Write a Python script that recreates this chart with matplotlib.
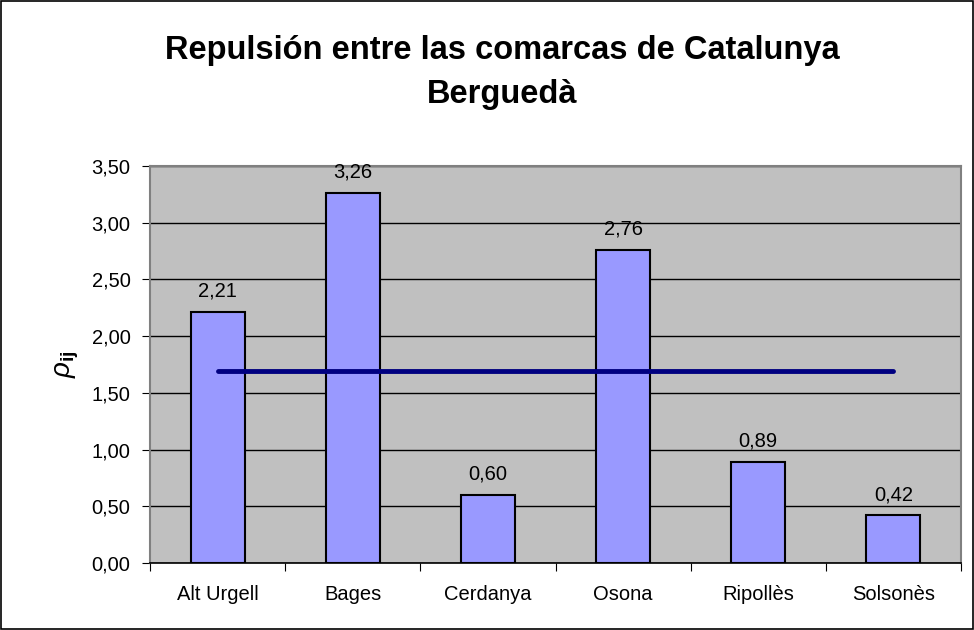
import matplotlib
matplotlib.use("Agg")
import matplotlib.pyplot as plt
from matplotlib.patches import Rectangle

categories = ["Alt Urgell", "Bages", "Cerdanya", "Osona", "Ripollès", "Solsonès"]
values = [2.21, 3.26, 0.60, 2.76, 0.89, 0.42]
mean_value = 1.69
yticks = [0.0, 0.5, 1.0, 1.5, 2.0, 2.5, 3.0, 3.5]

plt.rcParams['font.family'] = ['Liberation Sans', 'DejaVu Sans']
plt.rcParams['mathtext.fontset'] = 'custom'
plt.rcParams['mathtext.it'] = 'Liberation Sans:italic'
plt.rcParams['mathtext.bf'] = 'Liberation Sans:bold'
plt.rcParams['mathtext.rm'] = 'Liberation Sans'

fig = plt.figure(figsize=(9.74, 6.30), dpi=100)
fig.patch.set_facecolor('white')
fig.patches.append(Rectangle((0.001, 0.001), 0.998, 0.998, transform=fig.transFigure,
                             fill=False, edgecolor='black', linewidth=1.2))

ax = fig.add_axes([150/974, 1-563/630, (961-150)/974, (563-166)/630])
ax.set_facecolor('#C0C0C0')
x = list(range(len(categories)))
ax.bar(x, values, width=0.4, color='#9999FF', edgecolor='black', linewidth=1.5, zorder=3)
ax.plot([x[0], x[-1]], [mean_value, mean_value], color='#000080', linewidth=3.5,
        solid_capstyle='round', zorder=4)
fs = 14.5
for xi, v in zip(x, values):
    ax.text(xi, v + 0.1, f"{v:.2f}".replace('.', ','), ha='center', va='bottom', fontsize=fs)

ax.set_xlim(-0.5, len(categories) - 0.5)
ax.set_ylim(0, 3.5)
ax.set_yticks(yticks)
ax.set_yticklabels([f"{t:.2f}".replace('.', ',') for t in yticks], fontsize=fs)
ax.yaxis.grid(True, color='black', linewidth=1)
ax.set_axisbelow(True)
ax.set_xticks([i + 0.5 for i in range(-1, len(categories))])
ax.set_xticklabels([])
ax.set_xticks(x, minor=True)
ax.set_xticklabels(categories, minor=True, fontsize=fs)
ax.tick_params(axis='x', which='minor', length=0, pad=16)
ax.tick_params(axis='x', which='major', length=6, direction='out', color='black')
ax.tick_params(axis='y', length=6, direction='out', pad=8)
for s in ['left', 'right', 'top']:
    ax.spines[s].set_color('#808080')
    ax.spines[s].set_linewidth(1.5)
ax.spines['bottom'].set_color('black')
ax.spines['bottom'].set_linewidth(1.2)

ax.set_ylabel(r'$\rho_{\mathbf{ij}}$', fontsize=20)
ax.yaxis.set_label_coords(-69/811, 0.5)

fig.text(502/974, 1-50/630, "Repulsión entre las comarcas de Catalunya", ha='center', va='center',
         fontsize=23.5, fontweight='bold')
fig.text(502/974, 1-95/630, "Berguedà", ha='center', va='center', fontsize=23.5, fontweight='bold')

fig.savefig("out.png", dpi=100)
